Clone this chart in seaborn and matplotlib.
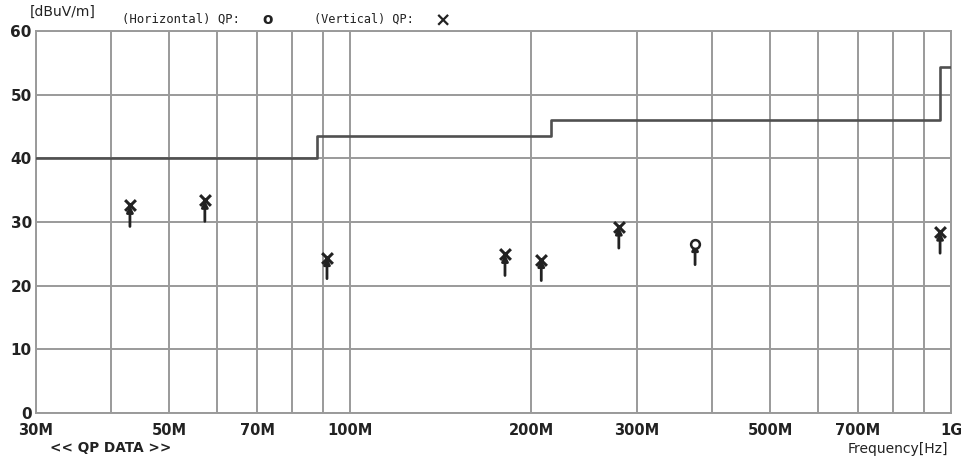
import matplotlib
matplotlib.use("Agg")
import matplotlib.pyplot as plt
import seaborn as sns
import pandas as pd
import numpy as np

# Data
limit_freq_mhz = [30, 88, 216, 960, 1000]
limit_level = [40.0, 43.5, 46.0, 54.3, 54.3]

vert_freq_mhz = [43.0, 57.3, 91.5, 181.0, 208.0, 280.0, 959.0]
vert_level = [32.6, 33.4, 24.4, 24.9, 24.1, 29.2, 28.4]

horiz_freq_mhz = [375.0]
horiz_level = [26.6]

xtick_vals = [30, 50, 70, 100, 200, 300, 500, 700, 1000]
xtick_labels = ["30M", "50M", "70M", "100M", "200M", "300M", "500M", "700M", "1G"]
grid_x = [30, 40, 50, 60, 70, 80, 90, 100, 200, 300, 400, 500, 600, 700, 800, 900, 1000]
ytick_vals = [0, 10, 20, 30, 40, 50, 60]

sns.set_theme(style="white")
plt.rcParams['font.family'] = ['DejaVu Sans']

fig = plt.figure(figsize=(9.62, 4.61), dpi=100)
ax = fig.add_axes([36/962, 1-413/461, (951-36)/962, (413-31)/461])

grid_col = "#9a9a9a"
for gx in grid_x:
    ax.axvline(gx, color=grid_col, lw=1.4, zorder=0)
for gy in ytick_vals:
    ax.axhline(gy, color=grid_col, lw=1.4, zorder=0)

limit_df = pd.DataFrame({"f": limit_freq_mhz, "lvl": limit_level})
sns.lineplot(data=limit_df, x="f", y="lvl", drawstyle="steps-post", color="#505050",
             lw=1.9, ax=ax, zorder=3)

arrow_len = 3.3
for f, v in zip(vert_freq_mhz + horiz_freq_mhz, vert_level + horiz_level):
    ax.annotate("", xy=(f, v), xytext=(f, v - arrow_len),
                arrowprops=dict(arrowstyle="-|>", color="#222222", lw=2.0,
                                mutation_scale=9, shrinkA=0, shrinkB=0), zorder=4)

vdf = pd.DataFrame({"f": vert_freq_mhz, "lvl": vert_level})
hdf = pd.DataFrame({"f": horiz_freq_mhz, "lvl": horiz_level})
sns.scatterplot(data=vdf, x="f", y="lvl", marker="x", s=60, color="#222222",
                linewidth=2.2, ax=ax, zorder=5)
sns.scatterplot(data=hdf, x="f", y="lvl", marker="o", s=40, facecolor="white",
                edgecolor="#222222", linewidth=1.8, ax=ax, zorder=5)

ax.set_xscale("log")
ax.set_xlim(30, 1000)
ax.set_ylim(0, 60)
ax.set_xticks(xtick_vals)
ax.set_xticklabels(xtick_labels)
ax.xaxis.set_minor_locator(matplotlib.ticker.NullLocator())
ax.set_yticks(ytick_vals)
ax.set_xlabel("")
ax.set_ylabel("")
ax.tick_params(axis="y", length=0, labelsize=11, pad=3)
ax.tick_params(axis="x", length=0, labelsize=10.5, pad=7)
for lab in ax.get_xticklabels() + ax.get_yticklabels():
    lab.set_fontweight("bold")
    lab.set_color("#222222")
for s in ax.spines.values():
    s.set_color(grid_col)
    s.set_linewidth(1.4)

mono = ['DejaVu Sans Mono']
# Header texts
fig.text(30/962, 1-12/461, "[dBuV/m]", fontsize=10, color="#222222", va="center", ha="left")
fig.text(122/962, 1-19/461, "(Horizontal) QP:", fontsize=8.8, family=mono, color="#222222", va="center", ha="left")
fig.text(268/962, 1-20/461, "o", fontsize=11, fontweight="bold", color="#222222", va="center", ha="center")
fig.text(314/962, 1-19/461, "(Vertical) QP:", fontsize=8.6, family=mono, color="#222222", va="center", ha="left")
fig.text(443/962, 1-21/461, "\u00d7", fontsize=14, fontweight="bold", color="#222222", va="center", ha="center")

fig.text(50/962, 1-448/461, "<< QP DATA >>", fontsize=9.8, fontweight="bold", color="#222222", va="center", ha="left")
fig.text(948/962, 1-449/461, "Frequency[Hz]", fontsize=10, color="#222222", va="center", ha="right")

fig.savefig("out.png", dpi=100)
